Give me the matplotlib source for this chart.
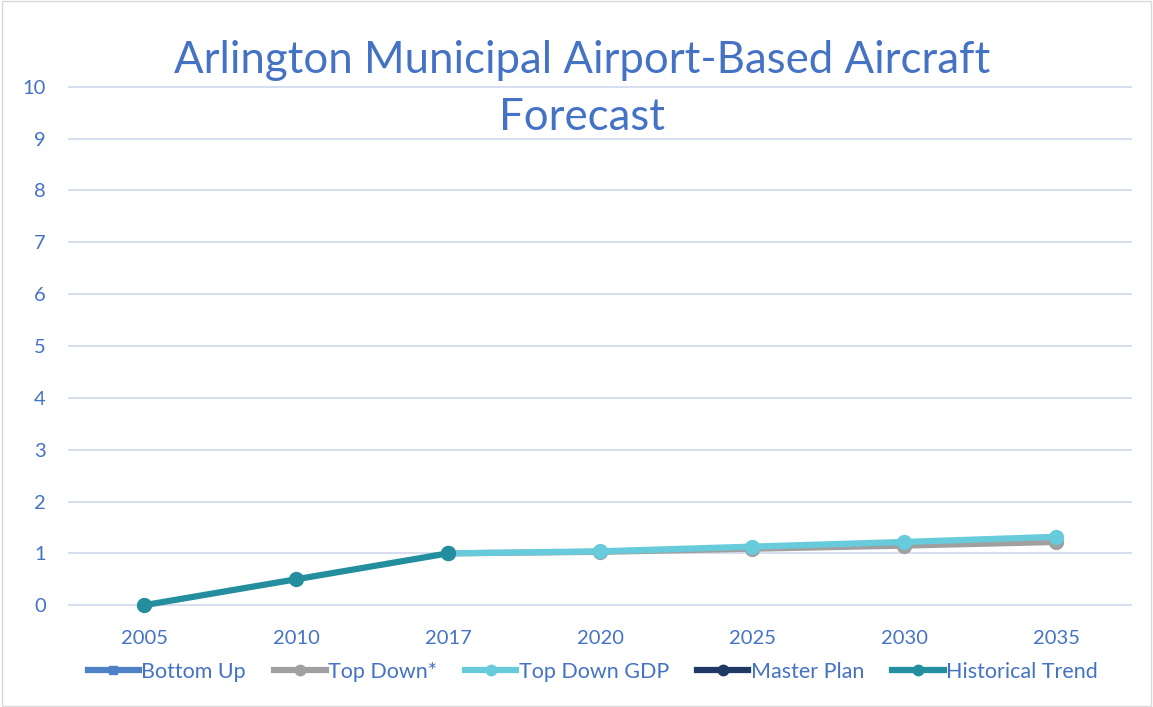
import matplotlib.pyplot as plt
import numpy as np

plt.rcParams['font.family'] = ['Lato', 'DejaVu Sans']

years = ['2005', '2010', '2017', '2020', '2025', '2030', '2035']
nan = np.nan
bottom_up = [nan, nan, nan, nan, nan, nan, nan]
top_down = [nan, nan, 1.0, 1.03, 1.09, 1.15, 1.22]
top_down_gdp = [nan, nan, 1.0, 1.04, 1.13, 1.22, 1.32]
master_plan = [nan, nan, nan, nan, nan, nan, nan]
historical = [0, 0.5, 1.0, nan, nan, nan, nan]

blue = '#4472C4'

fig = plt.figure(figsize=(11.53, 7.07), dpi=100)
ax = fig.add_axes([68 / 1153, 1 - 627 / 707, 1064 / 1153, 562 / 707])

x = np.arange(len(years))
ax.plot(x, bottom_up, color='#4F81C7', lw=4.5, marker='s', ms=8, label='Bottom Up')
ax.plot(x, top_down, color='#A0A0A0', lw=4.5, marker='o', ms=10, label='Top Down*')
ax.plot(x, top_down_gdp, color='#67CBDC', lw=4.5, marker='o', ms=10, label='Top Down GDP')
ax.plot(x, master_plan, color='#1F3864', lw=4.5, marker='o', ms=10, label='Master Plan')
ax.plot(x, historical, color='#238E9E', lw=4.5, marker='o', ms=10, label='Historical Trend')

ax.set_xlim(-0.5, 6.5)
ax.set_ylim(-0.42, 10.42)
ax.set_yticks(range(0, 11))
ax.set_xticks(x)
ax.set_xticklabels(years)
ax.grid(axis='y', color='#D6DEEF', lw=1.5)
ax.set_axisbelow(True)
for s in ax.spines.values():
    s.set_visible(False)
ax.tick_params(length=0, labelsize=14.5, labelcolor=blue)
ax.tick_params(axis='y', pad=16)
ax.tick_params(axis='x', pad=2)

fig.text(0.505, 1 - 89 / 707, 'Arlington Municipal Airport-Based Aircraft\nForecast',
         ha='center', va='center', fontsize=31.5, color=blue, linespacing=1.5)

leg = ax.legend(loc='center', bbox_to_anchor=(0.493, -0.08), ncol=5, frameon=False,
                fontsize=15.5, handlelength=2.4, handletextpad=0.1, columnspacing=1.3,
                labelcolor=blue, markerscale=0.75)

fig.patches.append(plt.Rectangle((0.002, 0.002), 0.996, 0.996, transform=fig.transFigure,
                                 fill=False, edgecolor='#D9D9D9', lw=1))

fig.savefig('out.png', dpi=100)
